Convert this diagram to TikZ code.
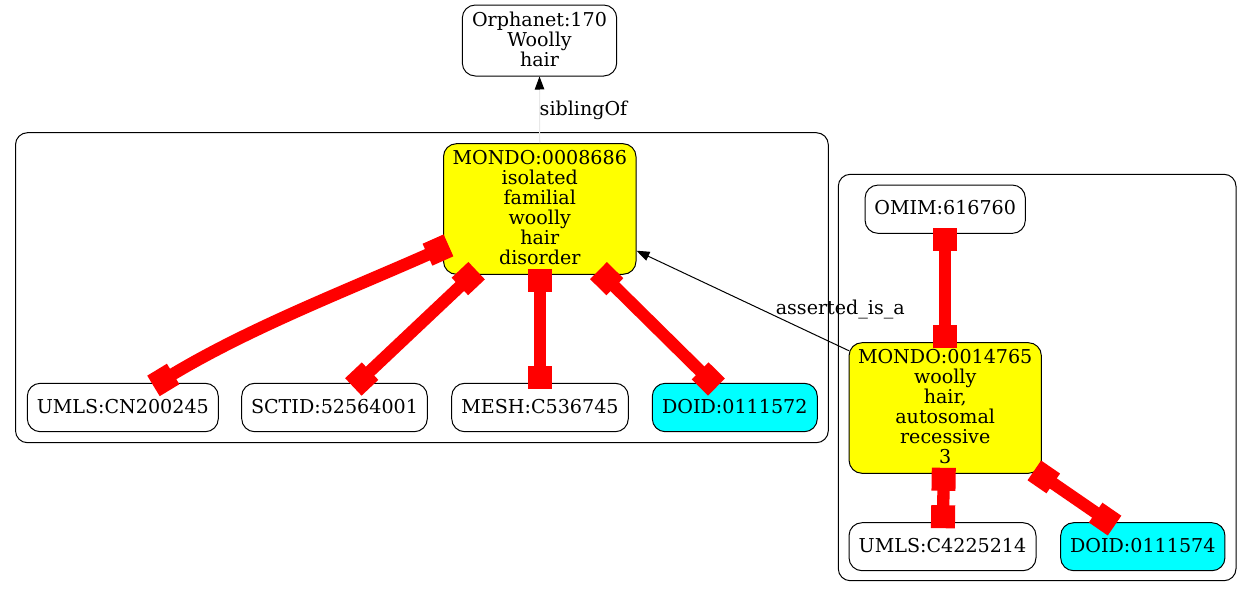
\documentclass[tikz,border=0pt]{standalone}
\usepackage{fontspec}
\setmainfont{DejaVu Serif}
\usetikzlibrary{arrows.meta,calc}
\newcommand\gvfont{\fontsize{19.1pt}{20pt}\selectfont}
\newcommand\fs{\rule{0pt}{14.6pt}}
\newcommand\ls{\rule[-3.6pt]{0pt}{3.6pt}}
\definecolor{sibgray}{RGB}{232,232,232}
\definecolor{gvyellow}{RGB}{255,255,0}
\definecolor{gvcyan}{RGB}{0,255,255}
\definecolor{gvred}{RGB}{255,0,0}
\tikzset{
  bx/.tip={Square[length=23pt,width=24pt]},
  tri/.tip={Triangle[length=13pt,width=9.5pt]},
  gnode/.style={draw=black, line width=1pt, rounded corners=13pt, inner sep=0pt, align=center, font=\gvfont},
  ynode/.style={gnode, fill=gvyellow},
  cnode/.style={gnode, fill=gvcyan},
  clus/.style={draw=black, line width=1pt, rounded corners=12pt, inner sep=0pt},
  redge/.style={draw=gvred, line width=12.3pt, bx-bx, shorten <=-6pt, shorten >=-6pt},
  sibline/.style={draw=sibgray, line width=1pt, -{tri[black]}},
  isaline/.style={draw=black, line width=1pt, -tri},
  elabel/.style={font=\gvfont, anchor=base, inner sep=0pt}
}
\begin{document}
\begin{tikzpicture}[x=1pt,y=-1pt]
\useasboundingbox (0,0) rectangle (1252,597);
\fill[white] (0,0) rectangle (1252,597);
% clusters
\node[clus, minimum width=812.8pt, minimum height=310pt] (cl1) at (421.9,287.7) {};
\node[clus, minimum width=397.7pt, minimum height=406.4pt] (cl2) at (1037.15,377.5) {};
% nodes
\node[gnode, minimum width=154.4pt, minimum height=71pt] (orph) at (539.5,40.5) {\fs Orphanet:170\\Woolly\\hair\ls};
\node[ynode, minimum width=192.5pt, minimum height=130.6pt] (m1) at (539.75,209) {\fs MONDO:0008686\\isolated\\familial\\woolly\\hair\\disorder\ls};
\node[gnode, minimum width=191pt, minimum height=48.4pt] (umls1) at (122.8,407.5) {\fs UMLS:CN200245\ls};
\node[gnode, minimum width=185.6pt, minimum height=48.4pt] (sct) at (334.5,407.5) {\fs SCTID:52564001\ls};
\node[gnode, minimum width=176.6pt, minimum height=48.4pt] (mesh) at (540,407.5) {\fs MESH:C536745\ls};
\node[cnode, minimum width=165pt, minimum height=48.4pt] (doid1) at (734.8,407.5) {\fs DOID:0111572\ls};
\node[gnode, minimum width=160.3pt, minimum height=48.3pt] (omim) at (945.2,209.2) {\fs OMIM:616760\ls};
\node[ynode, minimum width=192.3pt, minimum height=130.6pt] (m2) at (945.2,408) {\fs MONDO:0014765\\woolly\\hair,\\autosomal\\recessive\\3\ls};
\node[gnode, minimum width=187pt, minimum height=48pt] (umls2) at (942.5,546.7) {\fs UMLS:C4225214\ls};
\node[cnode, minimum width=164.3pt, minimum height=48pt] (doid2) at (1142.8,546.7) {\fs DOID:0111574\ls};
% thin edges
\draw[sibline] (m1.north) -- (orph.south);
\node[elabel] (lsib) at (583.5,115) {siblingOf};
\draw[isaline] ($(m2.west)+(0.3,-57.3)$) -- ($(m1.east)+(0,41.7)$);
\node[elabel] (lisa) at (840.3,314) {asserted\_is\_a};
% red edges
\draw[redge] ($(m1.west)+(0,38.8)$) .. controls ($(m1.west)+(-96.9,81.9)$) and ($(umls1.north)+(126.6,-55.1)$) .. ($(umls1.north)+(35.8,0)$);
\draw[redge] ($(m1.south)+(-67.5,0)$) -- ($(sct.north)+(23.2,0)$);
\draw[redge] ($(m1.south)+(0.25,0)$) -- (mesh.north);
\draw[redge] ($(m1.south)+(63,0)$) -- ($(doid1.north)+(-22.6,0)$);
\draw[redge] (omim.south) -- (m2.north);
\draw[redge] ($(m2.south)+(-1.5,0)$) -- ($(umls2.north)+(0.5,0)$);
\draw[redge] ($(m2.south east)+(-2.6,0)$) -- ($(doid2.north)+(-33.2,0)$);
\end{tikzpicture}
\end{document}
